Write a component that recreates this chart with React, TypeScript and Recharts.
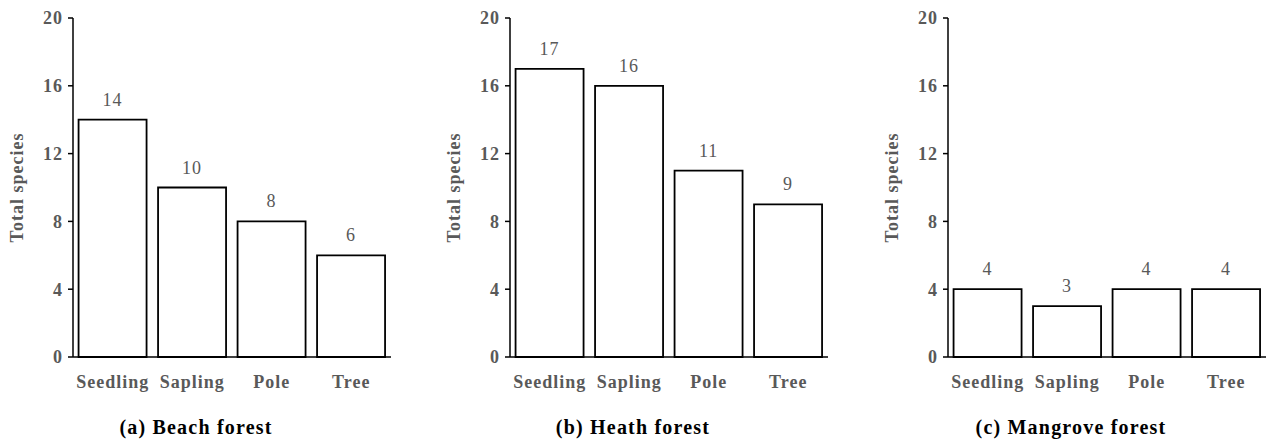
import React from 'react';
import { BarChart, Bar, XAxis, YAxis, LabelList } from 'recharts';

const categories = ['Seedling', 'Sapling', 'Pole', 'Tree'];
const beachValues = [14, 10, 8, 6];
const heathValues = [17, 16, 11, 9];
const mangroveValues = [4, 3, 4, 4];
const yTicks = [0, 4, 8, 12, 16, 20];

const panels = [
  { title: '(a) Beach forest', values: beachValues, left: 0 },
  { title: '(b) Heath forest', values: heathValues, left: 437 },
  { title: '(c) Mangrove forest', values: mangroveValues, left: 875 },
];

const FONT = '"Liberation Serif", "Times New Roman", serif';
const GRAY = '#595959';

function Panel({ title, values, left }: { title: string; values: number[]; left: number }) {
  const data = categories.map((c, i) => ({ name: c, value: values[i] }));
  return (
    <div style={{ position: 'absolute', left, top: 0, width: 391, height: 439 }}>
      <BarChart
        width={391}
        height={439}
        data={data}
        margin={{ top: 18, right: 0, bottom: 0, left: 0 }}
        barCategoryGap="7%"
      >
        <XAxis
          dataKey="name"
          height={82}
          tickLine={false}
          tickSize={0}
          tickMargin={18}
          axisLine={{ stroke: '#000', strokeWidth: 1.5 }}
          tick={{ fill: GRAY, fontSize: 18, fontWeight: 'bold', fontFamily: FONT, letterSpacing: 1 }}
        />
        <YAxis
          width={73}
          domain={[0, 20]}
          ticks={yTicks}
          interval={0}
          tickSize={5}
          tickMargin={5}
          axisLine={{ stroke: '#000', strokeWidth: 1.5 }}
          tickLine={{ stroke: '#000', strokeWidth: 1.5 }}
          tick={{ fill: GRAY, fontSize: 18, fontWeight: 'bold', fontFamily: FONT, letterSpacing: 1 }}
          label={{
            value: 'Total species',
            angle: -90,
            position: 'insideLeft',
            offset: 17,
            style: {
              textAnchor: 'middle',
              fill: GRAY,
              fontSize: 18,
              fontWeight: 'bold',
              fontFamily: FONT,
              letterSpacing: 1,
            },
          }}
        />
        <Bar dataKey="value" fill="#fff" stroke="#000" strokeWidth={1.8} isAnimationActive={false}>
          <LabelList
            dataKey="value"
            position="top"
            offset={14}
            fill={GRAY}
            fontSize={18}
            fontFamily={FONT}
            letterSpacing={1}
          />
        </Bar>
      </BarChart>
      <div
        style={{
          position: 'absolute',
          left: 196 - 150,
          width: 300,
          top: 414,
          textAlign: 'center',
          fontFamily: FONT,
          fontWeight: 'bold',
          fontSize: 20,
          letterSpacing: 1.2,
          color: '#000',
          lineHeight: '26px',
          whiteSpace: 'nowrap',
        }}
      >
        {title}
      </div>
    </div>
  );
}

export default function App() {
  return (
    <div style={{ position: 'absolute', left: 0, top: 0, width: 1266, height: 439, background: '#fff', overflow: 'hidden' }}>
      {panels.map((p) => (
        <Panel key={p.title} {...p} />
      ))}
    </div>
  );
}
